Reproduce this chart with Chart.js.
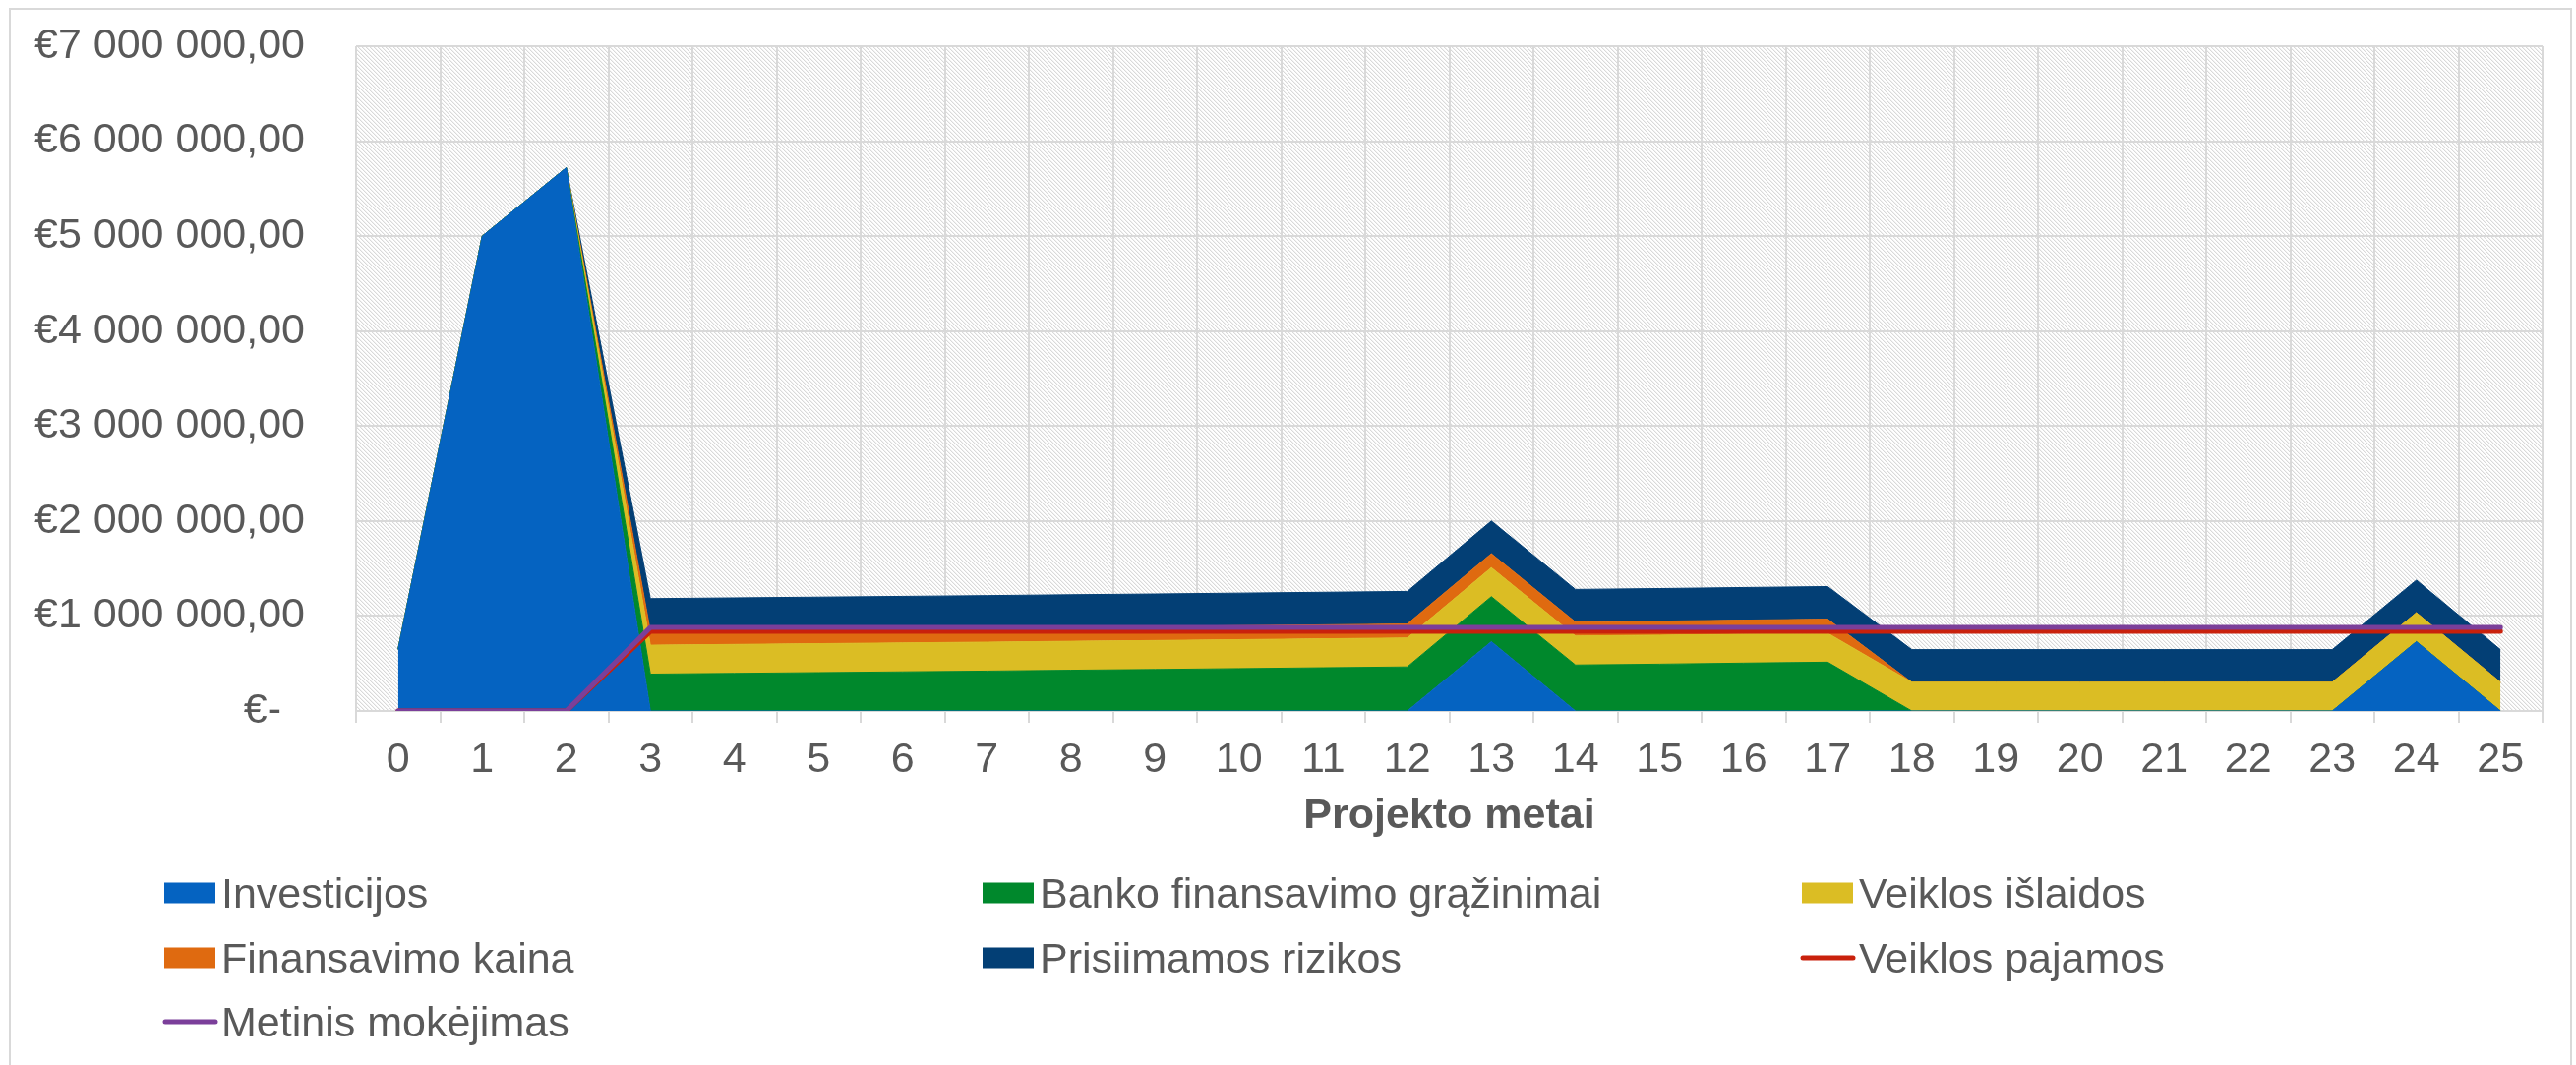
<!DOCTYPE html>
<html>
<head>
<meta charset="utf-8">
<script src="https://cdn.jsdelivr.net/npm/chart.js@4.4.1/dist/chart.umd.min.js"></script>
<style>
  html, body { margin: 0; padding: 0; background: #fff; }
  #chart { display: block; }
</style>
</head>
<body>
<canvas id="chart" width="2619" height="1083"></canvas>
<script>
// Projekto metai
const years = ['0', '1', '2', '3', '4', '5', '6', '7', '8', '9', '10', '11', '12',
  '13', '14', '15', '16', '17', '18', '19', '20', '21', '22', '23', '24', '25'];

// stacked areas, bottom to top (EUR)
const investicijos = [650000, 5000000, 5720000, 0, 0, 0, 0, 0, 0, 0, 0, 0, 0,
  730000, 0, 0, 0, 0, 0, 0, 0, 0, 0, 0, 730000, 0];
const bankoGrazinimai = [0, 0, 0, 388000, 396000, 404000, 412000, 420000, 429000, 437000, 446000, 455000, 464000,
  474000, 484000, 493000, 504000, 514000, 0, 0, 0, 0, 0, 0, 0, 0];
const veiklosIslaidos = [0, 0, 0, 305000, 305000, 305000, 305000, 305000, 305000, 305000, 305000, 305000, 305000,
  305000, 305000, 305000, 305000, 305000, 303000, 303000, 303000, 303000, 303000, 303000, 305000, 303000];
const finansavimoKaina = [0, 0, 0, 147000, 147000, 147000, 147000, 147000, 147000, 147000, 147000, 147000, 147000,
  148000, 148000, 148000, 148000, 148000, 0, 0, 0, 0, 0, 0, 0, 0];
const rizikos = [0, 0, 0, 343000, 343000, 343000, 343000, 343000, 343000, 343000, 343000, 343000, 343000,
  343000, 343000, 343000, 343000, 343000, 343000, 343000, 343000, 343000, 343000, 343000, 343000, 343000];

// lines
const veiklosPajamos = [0, 0, 0, 838000, 838000, 838000, 838000, 838000, 838000, 838000, 838000, 838000, 838000,
  838000, 838000, 838000, 838000, 838000, 838000, 838000, 838000, 838000, 838000, 838000, 838000, 838000];
const metinisMokejimas = [0, 0, 0, 879000, 879000, 879000, 879000, 879000, 879000, 879000, 879000, 879000, 879000,
  879000, 879000, 879000, 879000, 879000, 879000, 879000, 879000, 879000, 879000, 879000, 879000, 879000];

const yTickValues = [0, 1000000, 2000000, 3000000, 4000000, 5000000, 6000000, 7000000];

const textColor = '#595959';
const gridColor = '#d9d9d9';
const fontFamily = "'Liberation Sans', Arial, sans-serif";

Chart.defaults.font.family = fontFamily;
Chart.defaults.color = textColor;

function euro(v) {
  if (v === 0) return '€-\u00A0\u00A0';
  return '€' + String(v).replace(/\B(?=(\d{3})+(?!\d))/g, '\u00A0') + ',00';
}

function area(label, data, color, fill) {
  return {
    label: label,
    data: data,
    stack: 'islaidos',
    fill: fill,
    backgroundColor: color,
    borderColor: color,
    borderWidth: 1,
    pointRadius: 0,
    tension: 0,
    order: 10
  };
}

function line(label, data, color, order) {
  return {
    label: label,
    data: data,
    stack: label,
    fill: false,
    borderColor: color,
    backgroundColor: color,
    borderWidth: 5,
    borderCapStyle: 'round',
    pointRadius: 0,
    tension: 0,
    order: order
  };
}

// diagonal hatch for the plot area
function makeHatch(ctx) {
  const tile = document.createElement('canvas');
  tile.width = 8;
  tile.height = 8;
  const t = tile.getContext('2d');
  t.fillStyle = '#ffffff';
  t.fillRect(0, 0, 8, 8);
  for (let y = 0; y < 8; y++) {
    for (let x = 0; x < 8; x++) {
      const d = ((x - y) % 4 + 4) % 4;
      if (d === 0) { t.fillStyle = '#d9d9d9'; t.fillRect(x, y, 1, 1); }
      else if (d === 1) { t.fillStyle = '#f2f2f2'; t.fillRect(x, y, 1, 1); }
    }
  }
  return ctx.createPattern(tile, 'repeat');
}

const background = {
  id: 'background',
  beforeDraw(chart) {
    const ctx = chart.ctx;
    const a = chart.chartArea;
    ctx.save();
    ctx.fillStyle = '#ffffff';
    ctx.fillRect(0, 0, chart.width, chart.height);
    ctx.strokeStyle = gridColor;
    ctx.lineWidth = 2;
    ctx.strokeRect(10, 9, 2604, 1100);
    ctx.fillStyle = makeHatch(ctx);
    ctx.fillRect(a.left, a.top, a.right - a.left, a.bottom - a.top);
    ctx.restore();
  }
};

// legend in three fixed columns under the axis title
const legendCols = [167, 999, 1832];
const legendRows = [908, 974, 1039];

const bottomLegend = {
  id: 'bottomLegend',
  afterDraw(chart) {
    const ctx = chart.ctx;
    ctx.save();
    ctx.font = '43px ' + fontFamily;
    ctx.textBaseline = 'alphabetic';
    ctx.textAlign = 'left';
    chart.data.datasets.forEach((ds, i) => {
      const x = legendCols[i % 3];
      const y = legendRows[Math.floor(i / 3)];
      if (ds.fill === false) {
        ctx.strokeStyle = ds.borderColor;
        ctx.lineWidth = 5;
        ctx.lineCap = 'round';
        ctx.beginPath();
        ctx.moveTo(x + 1, y);
        ctx.lineTo(x + 52, y);
        ctx.stroke();
      } else {
        ctx.fillStyle = ds.backgroundColor;
        ctx.fillRect(x, y - 10.5, 52, 21);
      }
      ctx.fillStyle = textColor;
      ctx.fillText(ds.label, x + 58, y + 15);
    });
    ctx.restore();
  }
};

new Chart(document.getElementById('chart'), {
  type: 'line',
  data: {
    labels: years,
    datasets: [
      area('Investicijos', investicijos, '#0563c1', 'origin'),
      area('Banko finansavimo grąžinimai', bankoGrazinimai, '#00882c', '-1'),
      area('Veiklos išlaidos', veiklosIslaidos, '#dbbd24', '-1'),
      area('Finansavimo kaina', finansavimoKaina, '#df6a10', '-1'),
      area('Prisiimamos rizikos', rizikos, '#033f75', '-1'),
      line('Veiklos pajamos', veiklosPajamos, '#c9210c', 2),
      line('Metinis mokėjimas', metinisMokejimas, '#7b3f9a', 1)
    ]
  },
  plugins: [background, bottomLegend],
  options: {
    responsive: false,
    animation: false,
    devicePixelRatio: 1,
    layout: { padding: { left: 0, top: 47, right: 34, bottom: 210 } },
    plugins: {
      legend: { display: false },
      tooltip: { enabled: false }
    },
    scales: {
      x: {
        offset: true,
        grid: { offset: true, color: gridColor, lineWidth: 2, tickLength: 12 },
        border: { color: gridColor, width: 2 },
        ticks: { color: textColor, font: { size: 43 }, padding: 12, maxRotation: 0, autoSkip: false },
        title: {
          display: true,
          text: 'Projekto metai',
          color: textColor,
          font: { size: 43, weight: 'bold' },
          padding: { top: 0, bottom: 17 }
        },
        afterFit: (scale) => { scale.height = 150; }
      },
      y: {
        stacked: true,
        min: 0,
        max: 7000000,
        afterBuildTicks: (scale) => { scale.ticks = yTickValues.map(v => ({ value: v })); },
        ticks: { color: textColor, font: { size: 43 }, padding: 4, callback: (v) => euro(v) },
        // invisible tick marks keep the labels clear of the plot
        grid: { color: gridColor, lineWidth: 2, drawTicks: true, tickLength: 48, tickColor: 'rgba(0,0,0,0)' },
        border: { display: false },
        afterFit: (scale) => { scale.width = 362; }
      }
    }
  }
});
</script>
</body>
</html>
